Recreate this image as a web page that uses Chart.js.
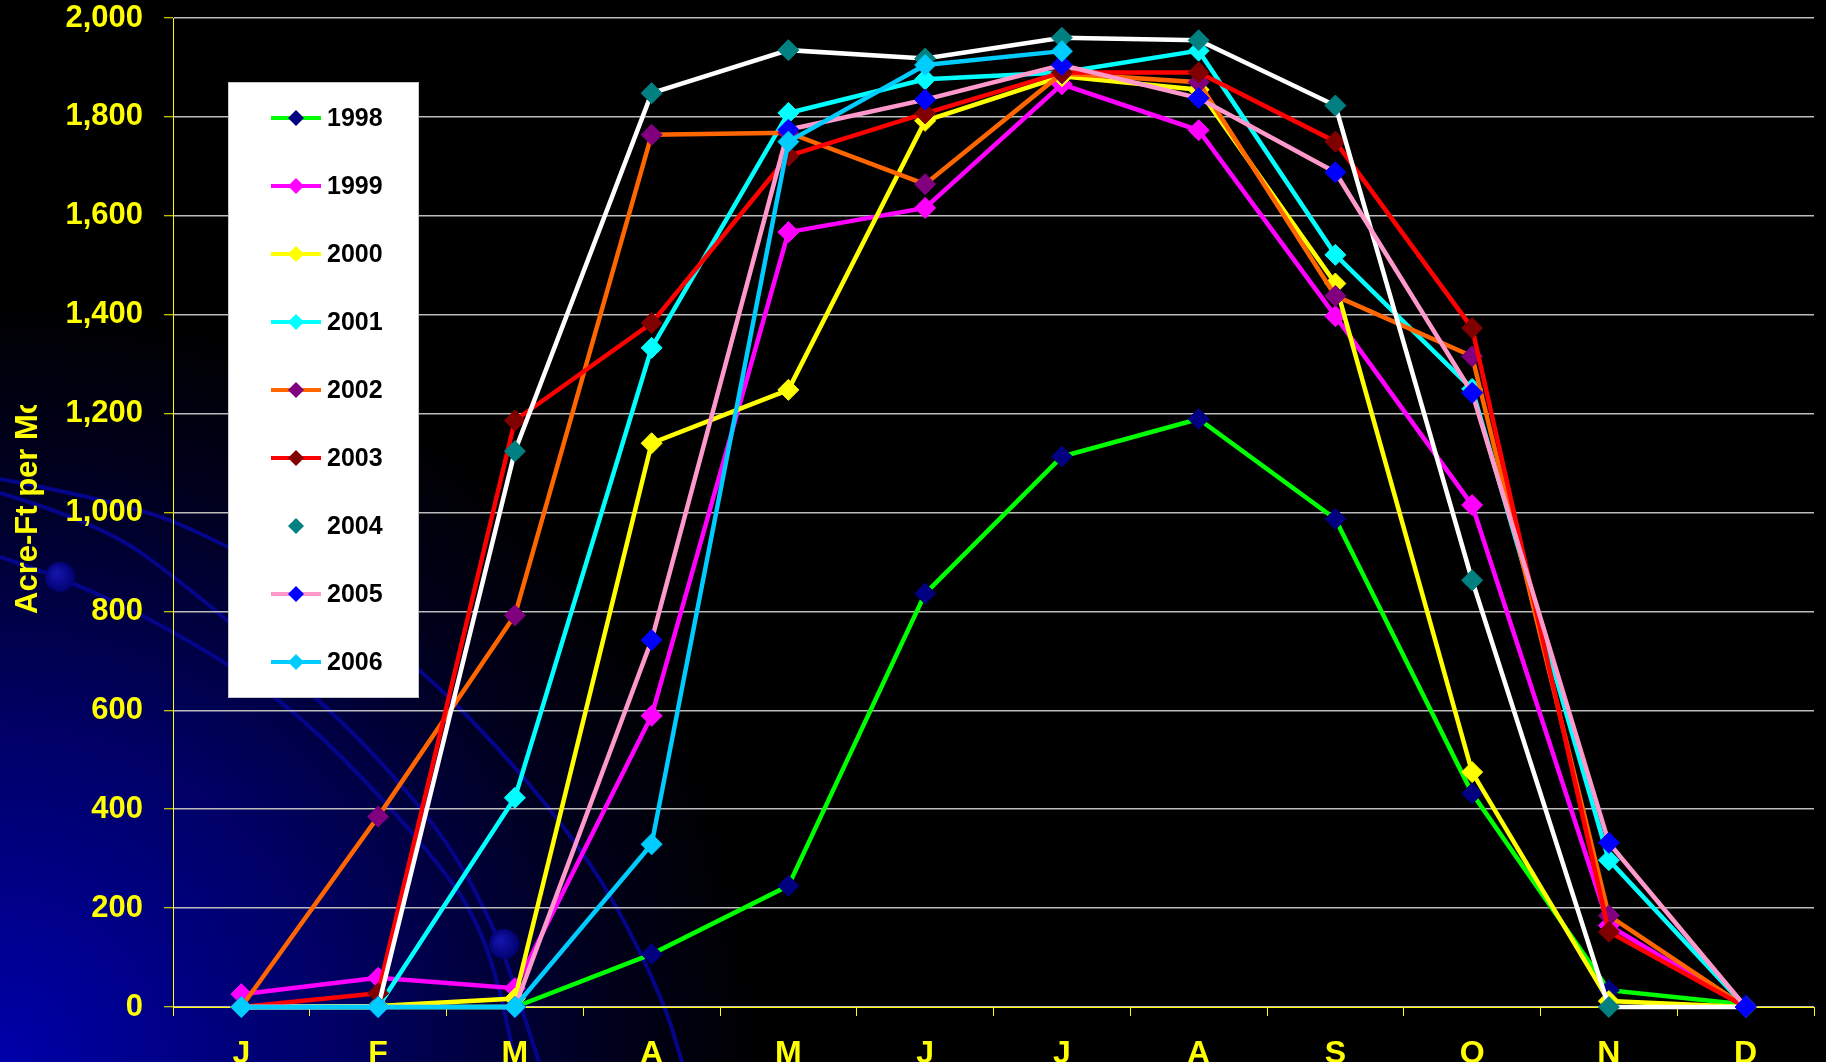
<!DOCTYPE html>
<html>
<head>
<meta charset="utf-8">
<title>Monthly Acre-Ft 1998-2006</title>
<script src="https://cdn.jsdelivr.net/npm/chart.js@4.4.1/dist/chart.umd.min.js"></script>
<style>
  html, body { margin: 0; padding: 0; background: #000; }
  #wrap { width: 1826px; height: 1062px; }
</style>
</head>
<body>
<div id="wrap"><canvas id="flowChart" width="1826" height="1062"></canvas></div>
<script>
var months = ['J', 'F', 'M', 'A', 'M', 'J', 'J', 'A', 'S', 'O', 'N', 'D'];
var years = ['1998', '1999', '2000', '2001', '2002', '2003', '2004', '2005', '2006'];

var acreFt1998 = [0, 0, 0, 107, 245, 836, 1113, 1189, 987, 432, 34, 5];
var acreFt1999 = [26, 59, 38, 589, 1567, 1616, 1866, 1773, 1397, 1015, 165, 0];
var acreFt2000 = [0, 2, 17, 1140, 1248, 1792, 1882, 1855, 1463, 475, 12, 0];
var acreFt2001 = [0, 0, 423, 1333, 1808, 1876, 1890, 1934, 1521, 1250, 297, 0];
var acreFt2002 = [0, 385, 792, 1764, 1768, 1664, 1888, 1870, 1438, 1316, 185, 0];
var acreFt2003 = [0, 28, 1186, 1383, 1721, 1807, 1890, 1890, 1750, 1373, 152, 0];
var acreFt2004 = [0, 0, 1124, 1848, 1935, 1918, 1960, 1955, 1823, 863, 0, 0];
var acreFt2005 = [0, 0, 0, 742, 1774, 1835, 1905, 1838, 1688, 1242, 332, 0];
var acreFt2006 = [0, 0, 0, 329, 1750, 1905, 1933, null, null, null, null, null];

var yTicks = [0, 200, 400, 600, 800, 1000, 1200, 1400, 1600, 1800, 2000];

var seriesValues = [acreFt1998, acreFt1999, acreFt2000, acreFt2001, acreFt2002,
                    acreFt2003, acreFt2004, acreFt2005, acreFt2006];

// line colour / marker colour per year
var lineColors   = ['#00ff00', '#ff00ff', '#ffff00', '#00ffff', '#ff6600', '#ff0000', '#ffffff', '#ff99cc', '#00ccff'];
var markerColors = ['#000080', '#ff00ff', '#ffff00', '#00ffff', '#800080', '#800000', '#008080', '#0000ff', '#00ccff'];

var FONT = "'Liberation Sans', Arial, sans-serif";
var YELLOW = '#ffff00';

// black slide with the blue glow and orbit lines in the lower left
var backdrop = {
  id: 'backdrop',
  beforeDraw: function (chart) {
    var ctx = chart.ctx, w = chart.width, h = chart.height;
    ctx.save();
    ctx.fillStyle = '#000';
    ctx.fillRect(0, 0, w, h);

    var glow = ctx.createRadialGradient(0, h, 0, 0, h, 760);
    glow.addColorStop(0, 'rgb(0,0,170)');
    glow.addColorStop(0.45, 'rgb(0,0,100)');
    glow.addColorStop(0.8, 'rgb(0,0,28)');
    glow.addColorStop(1, 'rgb(0,0,0)');
    ctx.fillStyle = glow;
    ctx.fillRect(0, 0, w, h);

    var orbits = [
      [[0, 479], [133, 504], [227, 545], [330, 603], [420, 668], [495, 744], [562, 823], [615, 901], [664, 1002], [682, 1062]],
      [[0, 493], [100, 523], [187, 586], [283, 668], [367, 745], [450, 843], [495, 930], [508, 966], [539, 1062]],
      [[0, 557], [62, 577], [167, 627], [277, 695], [367, 781], [450, 877], [481, 930], [500, 990], [515, 1062]]
    ];
    ctx.strokeStyle = 'rgb(5,5,140)';
    ctx.lineWidth = 4;
    orbits.forEach(function (pts) {
      ctx.beginPath();
      ctx.moveTo(pts[0][0], pts[0][1]);
      for (var i = 1; i < pts.length - 1; i++) {
        var mx = (pts[i][0] + pts[i + 1][0]) / 2, my = (pts[i][1] + pts[i + 1][1]) / 2;
        ctx.quadraticCurveTo(pts[i][0], pts[i][1], mx, my);
      }
      var last = pts[pts.length - 1];
      ctx.lineTo(last[0], last[1]);
      ctx.stroke();
    });

    [[60, 577], [504, 944]].forEach(function (c) {
      var g = ctx.createRadialGradient(c[0] - 4, c[1] - 4, 2, c[0], c[1], 16);
      g.addColorStop(0, 'rgb(20,20,170)');
      g.addColorStop(1, 'rgb(0,0,110)');
      ctx.fillStyle = g;
      ctx.beginPath();
      ctx.arc(c[0], c[1], 15, 0, Math.PI * 2);
      ctx.fill();
    });
    ctx.restore();
  }
};

// rotated axis caption, clipped at the top like the slide's text box
var axisCaption = {
  id: 'axisCaption',
  afterDraw: function (chart, args, opts) {
    var ctx = chart.ctx;
    ctx.save();
    ctx.beginPath();
    ctx.rect(0, opts.clipTop, 80, chart.height - opts.clipTop);
    ctx.clip();
    ctx.translate(opts.x, opts.y);
    ctx.rotate(-Math.PI / 2);
    ctx.fillStyle = YELLOW;
    ctx.font = 'bold 31px ' + FONT;
    ctx.textAlign = 'left';
    ctx.textBaseline = 'alphabetic';
    ctx.fillText(opts.text, 0, 0);
    ctx.restore();
  }
};

function diamond(ctx, x, y, r, color) {
  ctx.beginPath();
  ctx.moveTo(x, y - r);
  ctx.lineTo(x + r, y);
  ctx.lineTo(x, y + r);
  ctx.lineTo(x - r, y);
  ctx.closePath();
  ctx.fillStyle = color;
  ctx.fill();
}

// white legend box inside the plot
var legendPanel = {
  id: 'legendPanel',
  afterDraw: function (chart, args, o) {
    var ctx = chart.ctx;
    ctx.save();
    ctx.fillStyle = '#ffffff';
    ctx.fillRect(o.left, o.top, o.width, o.height);
    ctx.strokeStyle = '#c8c8c8';
    ctx.lineWidth = 1;
    ctx.strokeRect(o.left + 0.5, o.top + 0.5, o.width - 1, o.height - 1);
    ctx.font = 'bold 25px ' + FONT;
    ctx.textBaseline = 'middle';
    ctx.textAlign = 'left';
    chart.data.datasets.forEach(function (ds, i) {
      var y = o.firstRow + i * o.rowGap;
      ctx.strokeStyle = ds.borderColor;
      ctx.lineWidth = 4;
      ctx.beginPath();
      ctx.moveTo(o.lineFrom, y);
      ctx.lineTo(o.lineTo, y);
      ctx.stroke();
      diamond(ctx, (o.lineFrom + o.lineTo) / 2, y, 8, ds.pointBackgroundColor);
      ctx.fillStyle = '#000';
      ctx.fillText(ds.label, o.textX, y + 1);
    });
    ctx.restore();
  }
};

var datasets = years.map(function (yr, i) {
  return {
    label: yr,
    data: seriesValues[i],
    borderColor: lineColors[i],
    backgroundColor: markerColors[i],
    pointBackgroundColor: markerColors[i],
    pointBorderColor: markerColors[i],
    borderWidth: 4.5,
    pointStyle: 'rectRot',
    pointRadius: 10.5,
    pointHoverRadius: 10.5,
    pointBorderWidth: 1,
    tension: 0,
    clip: false,
    order: years.length - i
  };
});

var ctx = document.getElementById('flowChart').getContext('2d');
var flowChart = new Chart(ctx, {
  type: 'line',
  data: {
    labels: months,
    datasets: datasets
  },
  plugins: [backdrop, axisCaption, legendPanel],
  options: {
    responsive: false,
    animation: false,
    devicePixelRatio: 1,
    events: [],
    layout: {
      padding: { top: 0, right: 12, left: 0, bottom: 0 }
    },
    plugins: {
      legend: { display: false },
      tooltip: { enabled: false },
      axisCaption: { text: 'Acre-Ft per Mo', x: 37, y: 614, clipTop: 405 },
      legendPanel: {
        left: 228, top: 82, width: 191, height: 616,
        firstRow: 118, rowGap: 68,
        lineFrom: 271, lineTo: 321, textX: 327
      }
    },
    scales: {
      x: {
        type: 'category',
        offset: true,
        afterFit: function (scale) { scale.height = 55; },
        grid: {
          display: true,
          drawOnChartArea: false,
          offset: true,
          tickLength: 9,
          tickColor: YELLOW,
          tickWidth: 1
        },
        border: { color: YELLOW, width: 1 },
        ticks: {
          color: YELLOW,
          padding: 19,
          font: { family: FONT, size: 32, weight: 'bold' },
          maxRotation: 0,
          autoSkip: false
        }
      },
      y: {
        min: 0,
        max: 2000,
        afterFit: function (scale) {
          scale.width = 173;
          // plot top sits 18px below the canvas edge
          scale.paddingTop = 18;
          scale.paddingBottom = 0;
        },
        afterBuildTicks: function (scale) {
          scale.ticks = yTicks.map(function (v) { return { value: v }; });
        },
        grid: {
          color: '#bcbcbc',
          lineWidth: 1.5,
          tickLength: 9,
          tickColor: YELLOW,
          tickWidth: 1
        },
        border: { color: YELLOW, width: 1 },
        ticks: {
          color: YELLOW,
          padding: 21,
          font: { family: FONT, size: 31, weight: 'bold' },
          callback: function (v) { return v.toLocaleString('en-US'); }
        }
      }
    }
  }
});
</script>
</body>
</html>
